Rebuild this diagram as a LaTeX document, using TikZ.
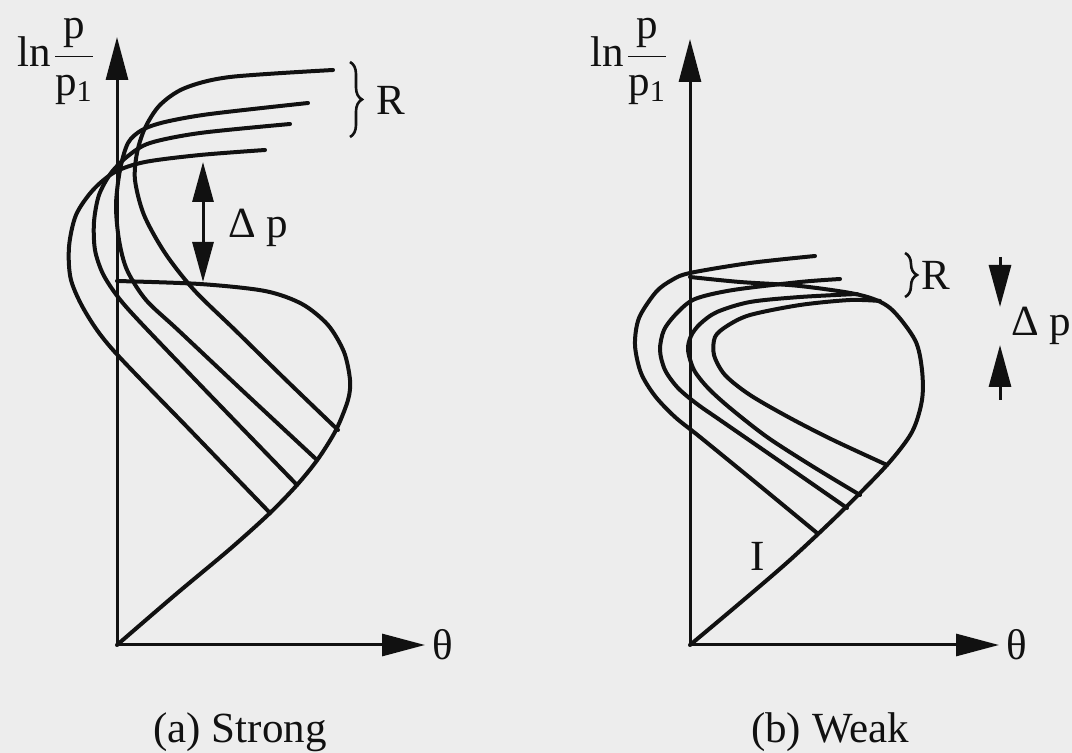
\documentclass[tikz,border=0pt]{standalone}
\usepackage{fontspec}
\setmainfont{Liberation Serif}
\usepackage{tikz}
\usetikzlibrary{arrows.meta,decorations.pathreplacing}
\definecolor{ink}{HTML}{111111}
\definecolor{paper}{HTML}{EDEDED}

\begin{document}
\begin{tikzpicture}[x=0.5pt,y=-0.5pt, every node/.style={font=\fontsize{21.5}{26}\selectfont,text=ink,inner sep=0pt}, ax/.style={draw=ink,line width=1.5pt,-{Triangle[length=21.5pt,width=11pt]}}, crv/.style={draw=ink,line width=2pt,line cap=round,line join=round}, brc/.style={draw=ink,line width=1.3pt,decorate,decoration={brace,amplitude=6pt}}, dpa/.style={draw=ink,line width=1.5pt,{Triangle[length=20pt,width=10.5pt]}-{Triangle[length=20pt,width=10.5pt]}}, dps/.style={draw=ink,line width=1.5pt,-{Triangle[length=21pt,width=11pt]}}]
\fill[paper] (0,0) rectangle (1072,753);
\useasboundingbox (0,0) rectangle (1072,753);

% (a) strong
\coordinate (oA) at (117,645);
\coordinate (yA) at (117,37);
\coordinate (xA) at (425,645);
\draw[ax] (oA) -- (yA);
\draw[ax] (oA) -- (xA);
\draw[crv] plot[smooth] coordinates {(117,645) (175,595) (230,549) (270,513) (297,485) (318,459) (336,430) (348,400) (350,380) (344,352) (328,325) (302,304) (265,291) (200,284) (117,281)};
\draw[crv] plot[smooth] coordinates {(270,513) (190,430) (113,350) (86,313) (71,280) (69,247) (76,215) (93,190) (115,172) (145,162) (200,155) (265,150)};
\draw[crv] plot[smooth] coordinates {(297,485) (208,393) (140,322) (118,297) (103,274) (95,250) (94,222) (99,195) (111,173) (128,156) (150,143) (200,133) (290,124)};
\draw[crv] plot[smooth] coordinates {(317,460) (245,393) (178,330) (146,300) (127,270) (119,240) (116,205) (120,170) (128,143) (142,130) (165,122) (210,114) (308,103)};
\draw[crv] plot[smooth] coordinates {(338,430) (286,380) (235,330) (194,290) (165,253) (144,215) (135,180) (137,153) (145,128) (160,105) (185,88) (230,77) (333,70)};
\coordinate (dA1) at (203,282);
\coordinate (dA2) at (203,162);
\draw[dpa] (dA1) -- (dA2);
\draw[brc] (350,62) -- (350,137);
\node[anchor=base west] (lnA) at (17,67) {ln\hspace{1pt}$\displaystyle\frac{\mbox{p}}{\mbox{p\textsubscript{1}}}$};
\node[anchor=west] (rA) at (376,100) {R};
\node[anchor=west] (dpA) at (228,228) {Δ p};
\node[anchor=west] (thA) at (432,645) {θ};
\node[anchor=base] (capA) at (240,742) {(a) Strong};

% (b) weak
\coordinate (oB) at (690,645);
\coordinate (yB) at (690,39);
\coordinate (xB) at (999,645);
\draw[ax] (oB) -- (yB);
\draw[ax] (oB) -- (xB);
\draw[crv] plot[smooth] coordinates {(690,645) (740,603) (790,560) (840,513) (887,465) (912,432) (922,400) (922,370) (915,340) (890,308) (860,295) (800,286) (740,282) (690,277)};
\draw[crv] plot[smooth] coordinates {(817,533) (760,486) (700,437) (675,417) (655,396) (641,373) (635,345) (639,318) (656,292) (672,280) (690,273) (750,263) (815,256)};
\draw[crv] plot[smooth] coordinates {(847,508) (775,458) (720,420) (697,404) (678,388) (665,370) (660,350) (664,330) (677,313) (695,299) (733,290) (800,282) (840,279)};
\draw[crv] plot[smooth] coordinates {(860,495) (812,466) (767,437) (730,408) (708,388) (694,370) (688,350) (691,336) (700,324) (717,312) (750,302) (800,297) (857,294)};
\draw[crv] plot[smooth] coordinates {(887,465) (833,440) (790,418) (750,395) (725,375) (714,355) (715,337) (727,326) (750,315) (800,305) (850,300) (880,301)};
\coordinate (dB1) at (1000,257);
\coordinate (dB2) at (1000,307);
\coordinate (dB3) at (1000,400);
\coordinate (dB4) at (1000,345);
\draw[dps] (dB1) -- (dB2);
\draw[dps] (dB3) -- (dB4);
\draw[brc] (905,253) -- (905,297);
\node[anchor=base west] (lnB) at (590,67) {ln\hspace{1pt}$\displaystyle\frac{\mbox{p}}{\mbox{p\textsubscript{1}}}$};
\node[anchor=west] (rB) at (921,275) {R};
\node[anchor=west] (dpB) at (1011,326) {Δ p};
\node[anchor=west] (thB) at (1006,645) {θ};
\node (iB) at (758,556) {I};
\node[anchor=base] (capB) at (830,742) {(b) Weak};
\end{tikzpicture}
\end{document}
